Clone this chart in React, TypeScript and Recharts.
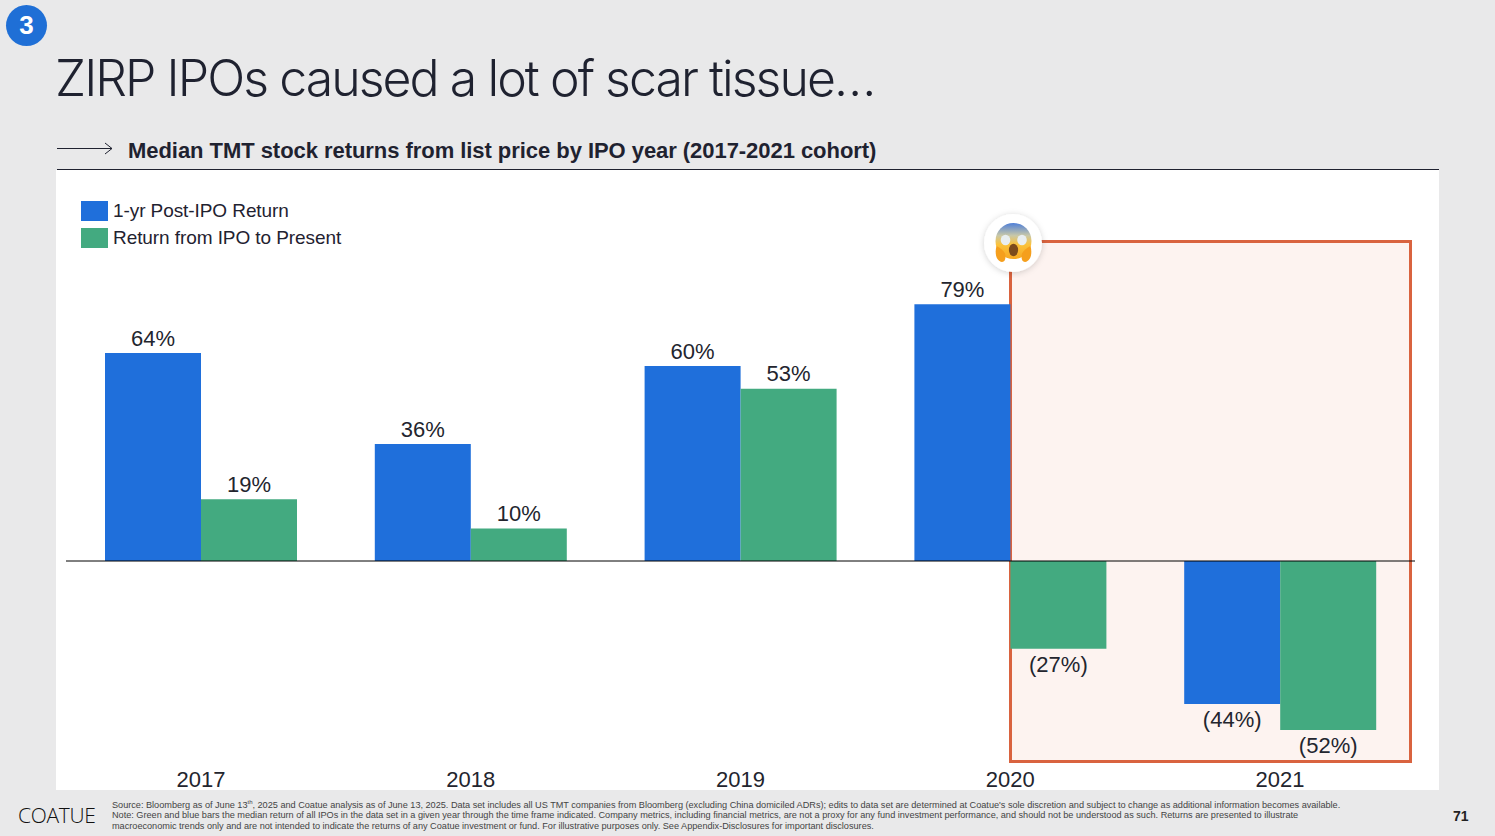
import { BarChart, Bar, XAxis, YAxis, ReferenceLine, LabelList } from "recharts";

const years = ["2017", "2018", "2019", "2020", "2021"];
const postIpoReturn = [64, 36, 60, 79, -44];
const presentReturn = [19, 10, 53, -27, -52];

const BLUE = "#1f6fdb";
const GREEN = "#43aa80";
const INK = "#1f2230";
const SANS = "'Liberation Sans', Arial, sans-serif";

const legendItems = [
  { name: "1-yr Post-IPO Return", color: BLUE },
  { name: "Return from IPO to Present", color: GREEN },
];

const data = years.map((year, i) => ({
  year,
  post: postIpoReturn[i],
  present: presentReturn[i],
}));

const formatPct = (v: any) => (v < 0 ? `(${Math.abs(v)}%)` : `${v}%`);

const labelStyle = { fontSize: 22, fill: "#23252e", fontFamily: SANS };

function ScreamFace() {
  return (
    <svg width={70} height={70} viewBox="0 0 70 70" style={{ position: "absolute", left: 978, top: 208 }}>
      <defs>
        <linearGradient id="face" x1="0" y1="0" x2="0" y2="1">
          <stop offset="0" stopColor="#4f7fd8" />
          <stop offset="0.35" stopColor="#c9c8a8" />
          <stop offset="0.6" stopColor="#fbc23a" />
          <stop offset="1" stopColor="#f7a823" />
        </linearGradient>
        <filter id="soft" x="-30%" y="-30%" width="160%" height="160%">
          <feDropShadow dx="0" dy="1" stdDeviation="3" floodColor="#000" floodOpacity="0.18" />
        </filter>
      </defs>
      <circle cx={35} cy={35} r={29} fill="#fff" filter="url(#soft)" />
      <circle cx={35.5} cy={33} r={18} fill="url(#face)" />
      <ellipse cx={27.5} cy={32} rx={4.8} ry={5.2} fill="#e9eef0" />
      <ellipse cx={44} cy={32} rx={4.8} ry={5.2} fill="#e9eef0" />
      <ellipse cx={35.5} cy={42} rx={4.6} ry={6.2} fill="#7c4a1c" />
      <path d="M18.5 38 C16.5 45 18 53 24 54 C27.5 54 28 49 27 45.5 C25.5 42 22 40 18.5 38 Z" fill="#f59f1d" />
      <path d="M52.5 38 C54.5 45 53 53 47 54 C43.5 54 43 49 44 45.5 C45.5 42 49 40 52.5 38 Z" fill="#f59f1d" />
    </svg>
  );
}

export default function App() {
  return (
    <div style={{ position: "absolute", left: 0, top: 0, width: 1495, height: 836, background: "#e9e9ea", overflow: "hidden", fontFamily: SANS, color: INK }}>
      {/* badge */}
      <div style={{ position: "absolute", left: 6, top: 5, width: 41, height: 41, borderRadius: "50%", background: "#1f6fd6", color: "#fff", fontSize: 26, fontWeight: 700, lineHeight: "41px", textAlign: "center" }}>3</div>

      {/* title */}
      <div style={{ position: "absolute", left: 55, top: 45, fontFamily: "Inter, sans-serif", fontWeight: 300, fontSize: 50, lineHeight: "66px", whiteSpace: "nowrap", letterSpacing: -1.95 }}>
        ZIRP IPOs caused a lot of scar tissue…
      </div>

      {/* subtitle */}
      <svg width={60} height={16} style={{ position: "absolute", left: 56, top: 141 }}>
        <path d="M1 7.5 H56 M49 2 L56 7.5 L49 13" fill="none" stroke={INK} strokeWidth={1} />
      </svg>
      <div style={{ position: "absolute", left: 128, top: 137, fontSize: 22, fontWeight: 700, lineHeight: "27px", whiteSpace: "nowrap", letterSpacing: -0.05 }}>
        Median TMT stock returns from list price by IPO year (2017-2021 cohort)
      </div>
      <div style={{ position: "absolute", left: 57, top: 169, width: 1382, height: 1, background: INK }} />

      {/* white panel */}
      <div style={{ position: "absolute", left: 56, top: 170, width: 1383, height: 620, background: "#fff" }} />

      {/* highlight box */}
      <div style={{ position: "absolute", left: 1009, top: 240, width: 397, height: 517, background: "#fdf3f0", border: "3px solid #d9633f" }} />

      <div style={{ position: "absolute", left: 56, top: 170 }}>
        <BarChart width={1383} height={640} data={data} margin={{ top: 66, right: 24, bottom: 0, left: 10 }} barGap={0} barSize={96}>
          <XAxis dataKey="year" height={54} interval={0} axisLine={false} tickLine={false} tickMargin={9} tick={{ fontSize: 22, fill: "#23252e", fontFamily: SANS }} />
          <YAxis hide domain={[-60, 100]} />
          <Bar dataKey="post" fill={BLUE} isAnimationActive={false}>
            <LabelList dataKey="post" position="top" offset={7.5} formatter={formatPct} style={labelStyle} />
          </Bar>
          <Bar dataKey="present" fill={GREEN} isAnimationActive={false}>
            <LabelList dataKey="present" position="top" offset={7.5} formatter={formatPct} style={labelStyle} />
          </Bar>
          <ReferenceLine y={0} stroke="#000" strokeWidth={1} />
        </BarChart>
      </div>

      {/* legend */}
      <div style={{ position: "absolute", left: 81, top: 197 }}>
        {legendItems.map((item) => (
          <div key={item.name} style={{ display: "flex", alignItems: "center", height: 27, fontSize: 19, whiteSpace: "nowrap", letterSpacing: -0.08 }}>
            <span style={{ width: 27, height: 20, background: item.color, marginRight: 5 }} />
            {item.name}
          </div>
        ))}
      </div>

      <ScreamFace />

      {/* footer */}
      <div style={{ position: "absolute", left: 18, top: 801, fontFamily: "'Open Sans', sans-serif", fontWeight: 300, fontSize: 21, lineHeight: "28px", letterSpacing: -0.3, color: "#111" }}>COATUE</div>
      <div style={{ position: "absolute", left: 112, top: 800, fontSize: 9.18, lineHeight: "10.4px", color: "#444", whiteSpace: "nowrap", letterSpacing: -0.02 }}>
        <div>Source: Bloomberg as of June 13<sup style={{ fontSize: 6, lineHeight: 0 }}>th</sup>, 2025 and Coatue analysis as of June 13, 2025. Data set includes all US TMT companies from Bloomberg (excluding China domiciled ADRs); edits to data set are determined at Coatue's sole discretion and subject to change as additional information becomes available.</div>
        <div>Note: Green and blue bars the median return of all IPOs in the data set in a given year through the time frame indicated. Company metrics, including financial metrics, are not a proxy for any fund investment performance, and should not be understood as such. Returns are presented to illustrate</div>
        <div>macroeconomic trends only and are not intended to indicate the returns of any Coatue investment or fund. For illustrative purposes only. See Appendix-Disclosures for important disclosures.</div>
      </div>
      <div style={{ position: "absolute", left: 1453, top: 808, fontSize: 14, fontWeight: 700, color: "#222" }}>71</div>
    </div>
  );
}
